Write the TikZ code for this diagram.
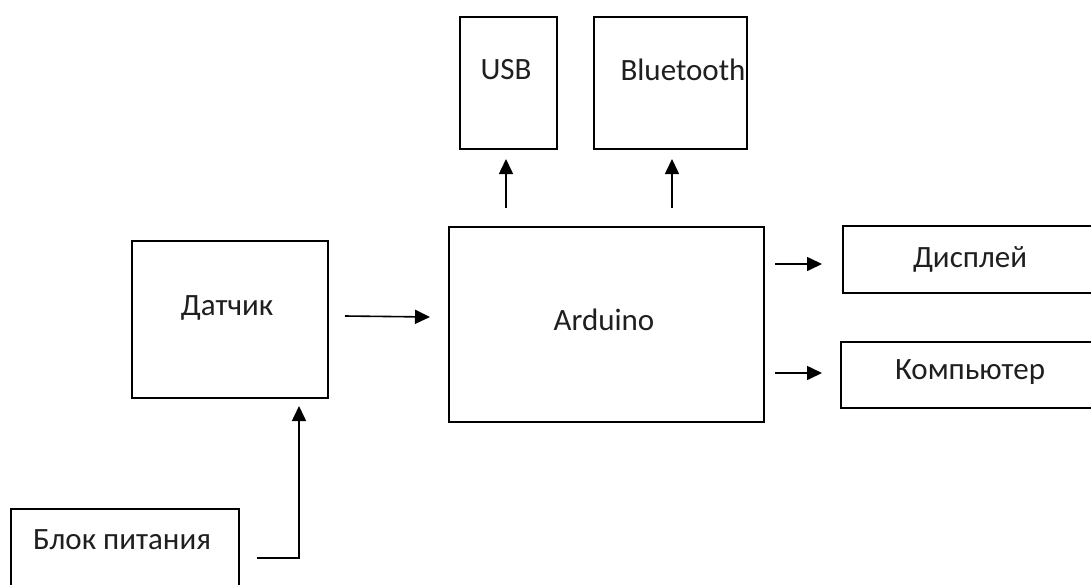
\documentclass[tikz,border=0pt]{standalone}
\usepackage{fontspec}
\setmainfont{Carlito}
\usetikzlibrary{arrows.meta,calc}
\begin{document}
\begin{tikzpicture}[x=1pt,y=-1pt,
  box/.style={draw, line width=1.6pt, anchor=north west, inner sep=0pt},
  lbl/.style={font=\fontsize{31}{36}\selectfont, inner sep=0pt, text=black!88},
  arr/.style={line width=1.6pt, -{Triangle[length=15pt,width=14pt]}}]
\useasboundingbox (0,0) rectangle (1091,584);
\clip (0,0) rectangle (1091,584);
\fill[white] (0,0) rectangle (1091,584);
% boxes
\node[box, minimum width=97pt, minimum height=132pt] (usb) at (459,16) {};
\node[box, minimum width=153pt, minimum height=132pt] (bt) at (593,16) {};
\node[box, minimum width=196pt, minimum height=157pt] (sensor) at (131,240) {};
\node[box, minimum width=315pt, minimum height=195pt] (ard) at (448,226) {};
\node[box, minimum width=270pt, minimum height=67pt] (disp) at (842,225) {};
\node[box, minimum width=270pt, minimum height=66pt] (pc) at (840,341) {};
\node[box, minimum width=228pt, minimum height=100pt] (psu) at (10,508) {};
% texts
\node[lbl] (tusb) at (506,70) {USB};
\node[lbl] (tbt) at (683,70) {Bluetooth};
\node[lbl] (tsensor) at (227,308) {Датчик};
\node[lbl] (tard) at (604,320) {Arduino};
\node[lbl] (tdisp) at (970,259) {Дисплей};
\node[lbl] (tpc) at (970,372) {Компьютер};
\node[lbl] (tpsu) at (122,540) {Блок питания};
% connector end points
\coordinate (a1) at (506,208); \coordinate (b1) at (506,159);
\coordinate (a2) at (672,208); \coordinate (b2) at (672,159);
\coordinate (a3) at (345,316); \coordinate (b3) at (430,317);
\coordinate (a4) at (775,264); \coordinate (b4) at (822,264);
\coordinate (a5) at (775,373); \coordinate (b5) at (822,373);
\coordinate (a6) at (257,558); \coordinate (c6) at (299,558); \coordinate (b6) at (299,406);
% connectors
\draw[arr] (a1) -- (b1);
\draw[arr] (a2) -- (b2);
\draw[arr] (a3) -- (b3);
\draw[arr] (a4) -- (b4);
\draw[arr] (a5) -- (b5);
\draw[arr] (a6) -- (c6) -- (b6);
\end{tikzpicture}
\end{document}
